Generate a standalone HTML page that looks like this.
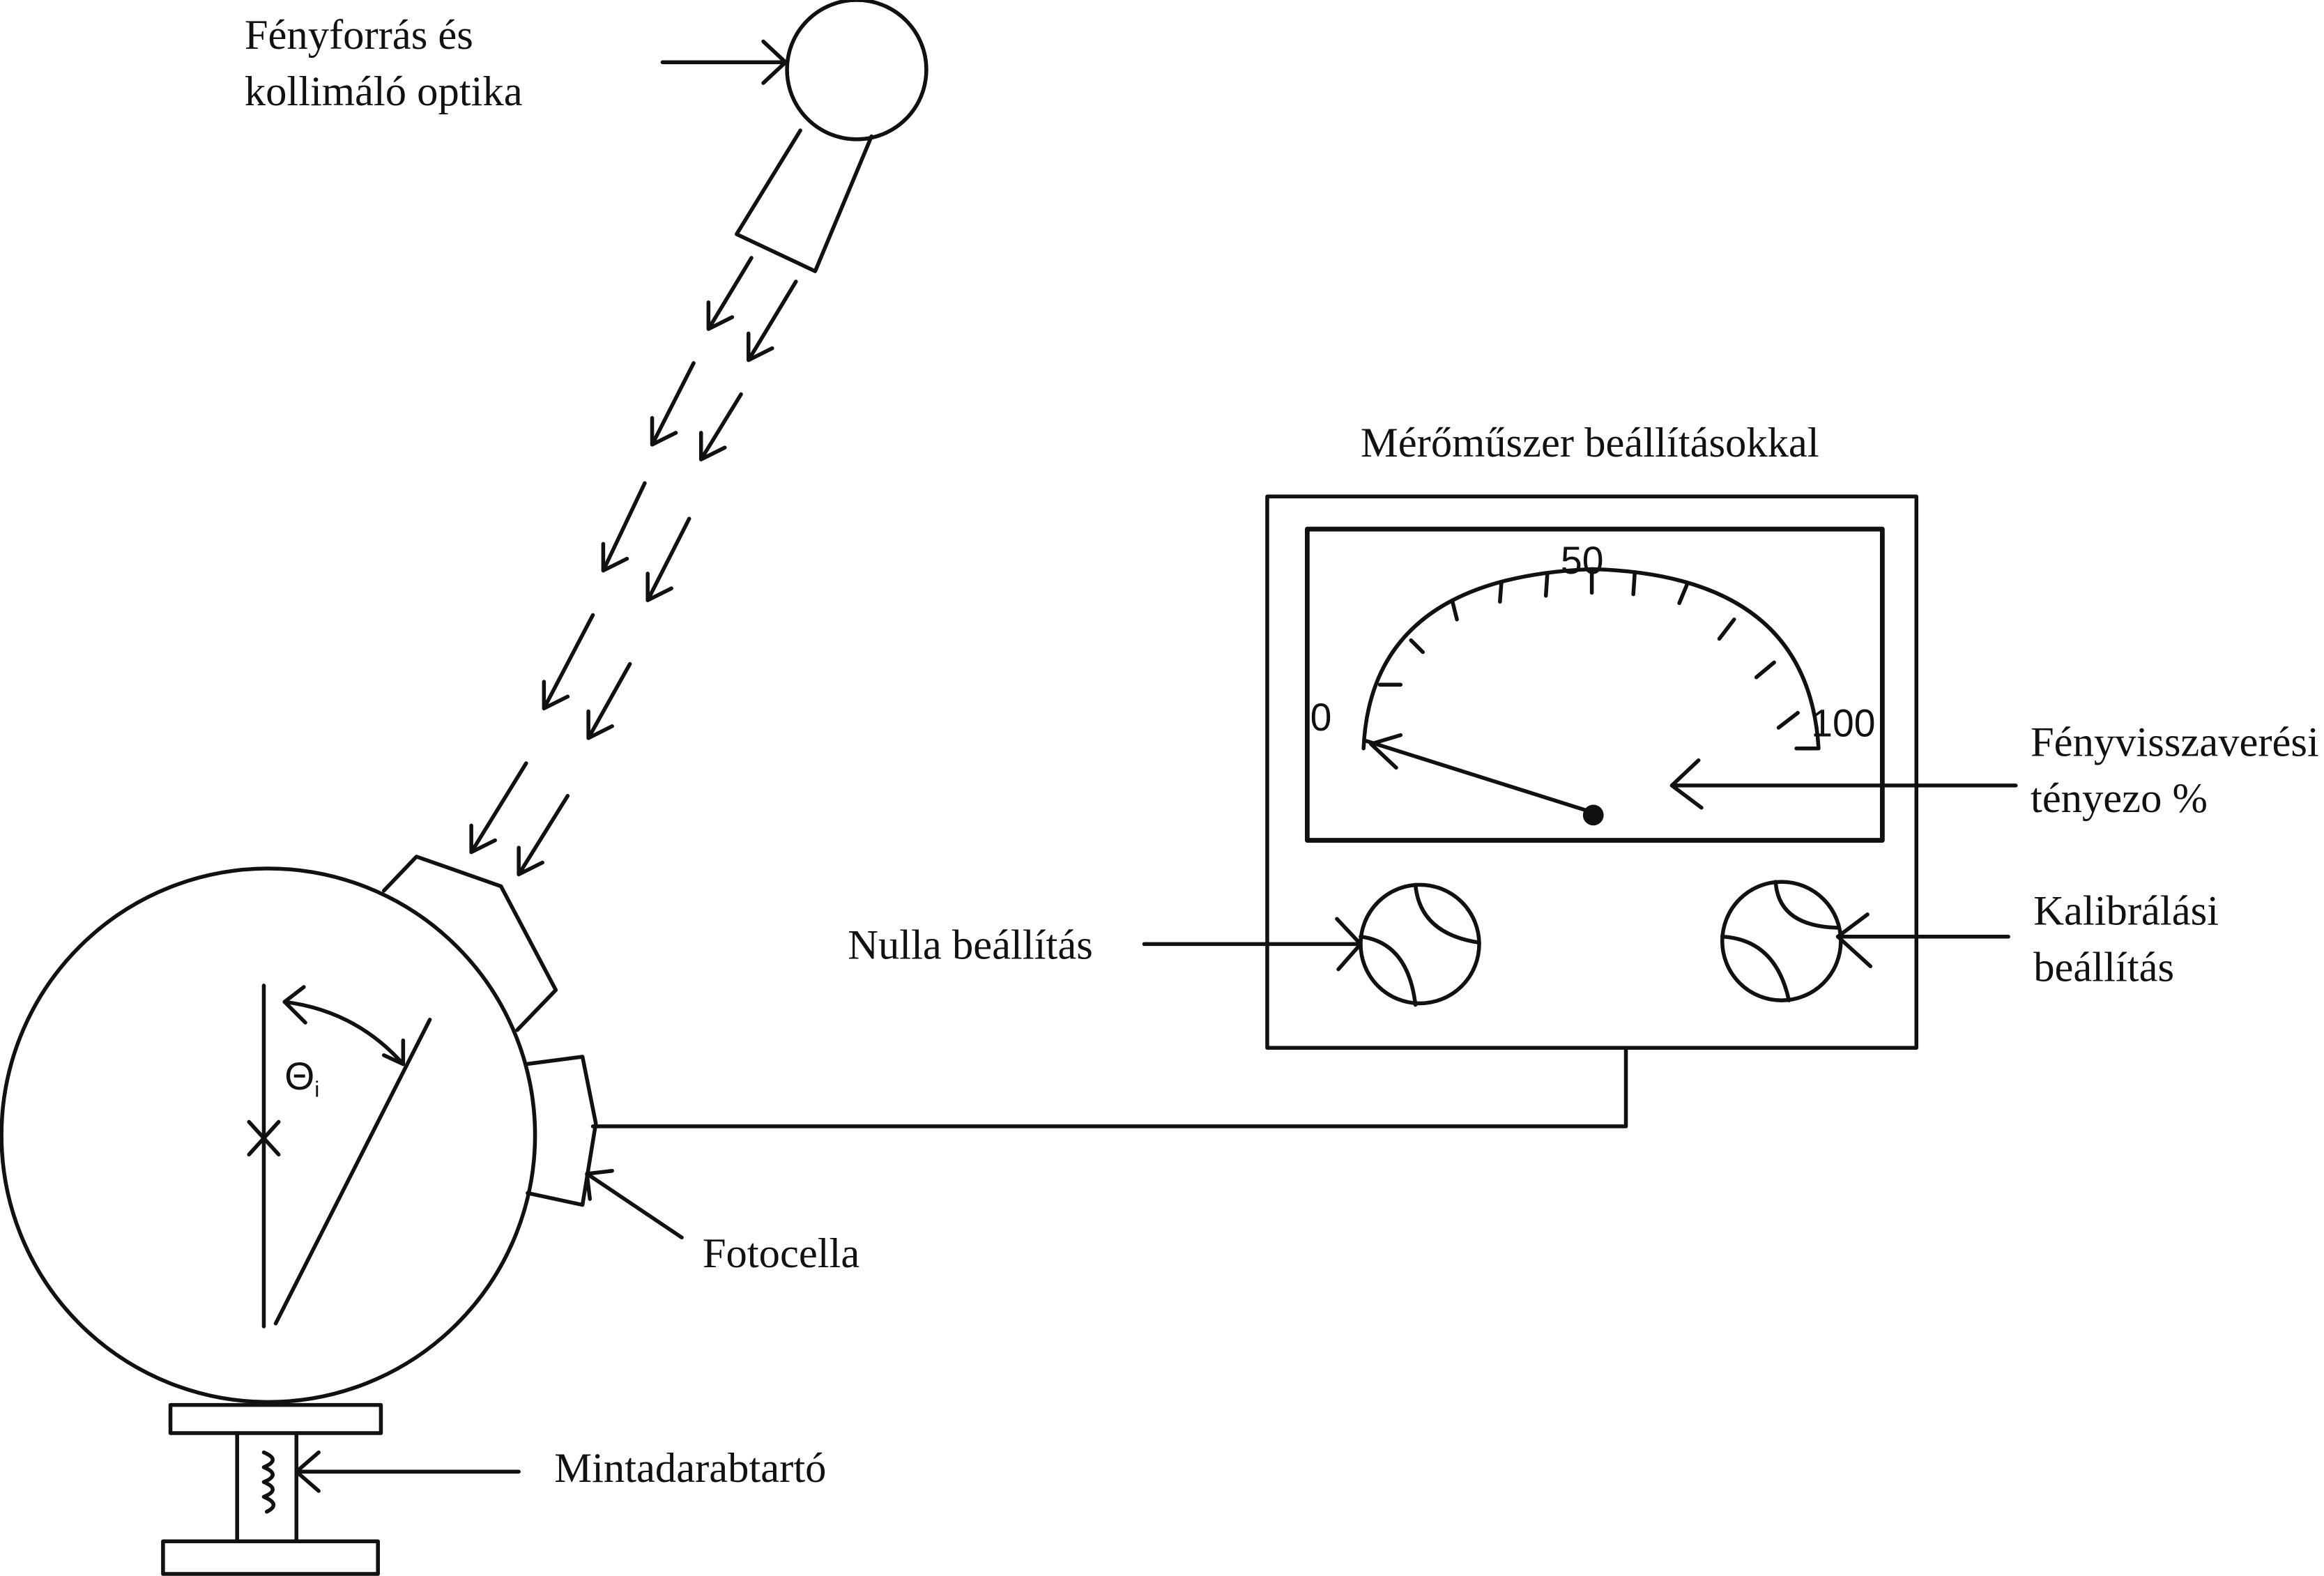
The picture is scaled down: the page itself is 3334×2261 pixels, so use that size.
<!DOCTYPE html>
<html><head><meta charset="utf-8"><style>
html,body{margin:0;padding:0;background:#fff;}
svg{display:block;}
text{font-family:"Liberation Serif",serif;font-size:28.5px;fill:#111;}
.s{font-family:"Liberation Sans",sans-serif;font-size:26px;}
</style></head><body>
<svg width="3334" height="2261" viewBox="0 0 1568 1063.4" preserveAspectRatio="none" xmlns="http://www.w3.org/2000/svg">
<g fill="none" stroke="#111" stroke-width="2.6" stroke-linecap="round" stroke-linejoin="round">
<circle cx="578" cy="47" r="47"/>
<path d="M540 88 L497 158 L550 183 L588 92"/>
<path d="M447 42 H530 M515 28 L530 42 L515 56"/>
<g>
<path d="M507 174 L478 222 M478 204 L478 222 L494 214"/>
<path d="M468 245 L440 300 M440 282 L440 300 L456 292"/>
<path d="M435 326 L407 385 M407 367 L407 385 L423 377"/>
<path d="M400 415 L367 478 M367 460 L367 478 L383 470"/>
<path d="M355 515 L318 575 M318 557 L318 575 L334 567"/>
<path d="M537 190 L505 243 M505 225 L505 243 L521 235"/>
<path d="M500 266 L473 310 M473 292 L473 310 L489 302"/>
<path d="M465 350 L437 405 M437 387 L437 405 L453 397"/>
<path d="M425 448 L397 498 M397 480 L397 498 L413 490"/>
<path d="M383 537 L350 590 M350 572 L350 590 L366 582"/>
</g>
<circle cx="181" cy="766" r="180"/>
<path d="M259 601 L281 578 L338 598 L375 668 L349 695"/>
<path d="M355 718 L393 713 L402 758 L393 813 L356 805"/>
<path d="M178 665 V895"/>
<path d="M168 757 L188 779 M188 757 L168 779"/>
<path d="M290 688 L186 893"/>
<path d="M192 676 Q240 682 272 718"/>
<path d="M205 666 L192 676 L206 690 M259 712 L272 718 L272 702"/>
<path d="M400 760 H1097 V707"/>
<path d="M460 835 L396 792 M398 809 L396 792 L413 790"/>
<rect x="115" y="948" width="142" height="19"/>
<rect x="110" y="1040" width="145" height="22"/>
<path d="M160 967 V1040 M200 967 V1040"/>
<path d="M178 980 Q190 985 178 990 M178 990 Q190 995 178 1000 M178 1000 Q190 1005 178 1010 M178 1010 Q190 1015 180 1020"/>
<path d="M350 993 H200 M215 980 L200 993 L215 1006"/>
<rect x="855" y="335" width="438" height="372"/>
<rect x="882" y="357" width="388" height="210" stroke-width="3.2"/>
<path d="M920 505 Q925 390 1074 384 Q1220 388 1227 505"/>
<path d="M1074 384 V400 M1044 387 L1043 402 M1013 393 L1012 406 M980 406 L983 418 M952 432 L960 440 M931 462 L945 462 M1103 386 L1102 401 M1138 395 L1133 407 M1170 418 L1160 431 M1197 447 L1185 457 M1213 481 L1200 491 M1226 505 L1212 505"/>
<path d="M1074 548 L922 500 M942 518 L925 502 L945 496"/>
<path d="M1360 530 H1128 M1146 513 L1128 530 L1148 545"/>
<ellipse cx="958" cy="637" rx="40" ry="40"/>
<path d="M918 632 Q950 636 955 678 M955 597 Q958 630 998 636"/>
<ellipse cx="1202" cy="635" rx="40" ry="40"/>
<path d="M1162 632 Q1198 634 1207 675 M1198 595 Q1200 625 1240 626"/>
<path d="M772 637 H918 M902 620 L918 637 L903 654"/>
<path d="M1355 632 H1240 M1260 617 L1240 632 L1262 652"/>
</g>
<circle cx="1075" cy="550" r="7" fill="#111"/>
<text x="165" y="33">Fényforrás és</text>
<text x="165" y="71">kollimáló optika</text>
<text x="918" y="308">Mérőműszer beállításokkal</text>
<text x="1370" y="510">Fényvisszaverési</text>
<text x="1370" y="548">tényezo %</text>
<text x="572" y="647">Nulla beállítás</text>
<text x="1372" y="624">Kalibrálási</text>
<text x="1372" y="662">beállítás</text>
<text x="474" y="855">Fotocella</text>
<text x="374" y="1000">Mintadarabtartó</text>
<text class="s" x="884" y="493">0</text>
<text class="s" x="1053" y="387">50</text>
<text class="s" x="1222" y="497">100</text>
<text class="s" x="192" y="735">Θ<tspan font-size="15" dy="5">i</tspan></text>
</svg>
</body></html>
